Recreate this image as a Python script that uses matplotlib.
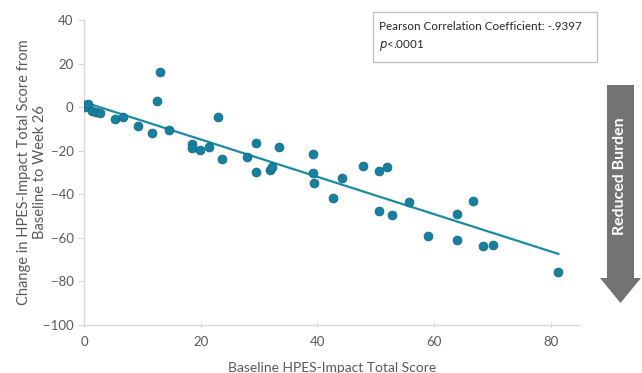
import numpy as np
import matplotlib.pyplot as plt
from matplotlib.patches import Polygon, Rectangle

# baseline score vs change to week 26
baseline = [0.0, 0.2, 0.7, 1.3, 2.0, 2.7, 5.4, 6.7, 9.3, 11.6, 12.6, 13.1, 14.5,
            18.5, 18.5, 19.8, 21.5, 23.0, 23.7, 27.9, 29.4, 29.5, 31.9, 32.2,
            33.4, 39.3, 39.3, 39.4, 42.6, 44.3, 47.9, 50.6, 52.0, 50.5, 52.8,
            55.7, 58.9, 64.0, 66.7, 64.0, 68.4, 70.1, 81.3]
change = [1.0, 0.0, 1.4, -1.7, -2.1, -2.8, -5.6, -4.4, -8.5, -11.7, 2.8, 16.1, -10.5,
          -16.9, -18.8, -19.7, -18.5, -4.4, -23.8, -22.8, -16.3, -29.6, -28.9, -27.6,
          -18.5, -21.5, -30.1, -34.8, -41.7, -32.7, -27.0, -29.3, -27.6, -47.5, -49.4,
          -43.4, -59.0, -48.9, -43.0, -61.1, -63.9, -63.3, -75.5]

# trend line as drawn in the picture
fit_slope = -0.857
fit_intercept = 2.3
fit_range = [0.7, 81.3]

x_ticks = [0, 20, 40, 60, 80]
y_ticks = [-100, -80, -60, -40, -20, 0, 20, 40]

plt.rcParams['font.family'] = ['Lato', 'DejaVu Sans']
txt = '#595959'
dot = '#17809f'

fig = plt.figure(figsize=(6.42, 3.73), dpi=100)
ax = fig.add_axes([0.1308, 0.1287, 0.7726, 0.8177])

xl = np.array(fit_range)
ax.plot(xl, fit_slope * xl + fit_intercept, color='#1a8aa6', lw=1.6, zorder=2)
ax.scatter(baseline, change, s=40, color=dot, edgecolor='#0f6a86', linewidth=0.6, zorder=3)

ax.set_xlim(0, 85)
ax.set_ylim(-100, 40)
ax.set_xticks(x_ticks)
ax.set_yticks(y_ticks)
for s in ['top', 'right']:
    ax.spines[s].set_visible(False)
for s in ['left', 'bottom']:
    ax.spines[s].set_color('#d9d9d9')
    ax.spines[s].set_linewidth(1.0)
ax.tick_params(axis='both', colors='#d9d9d9', labelcolor=txt, labelsize=9.5, length=4)
ax.tick_params(axis='x', direction='inout', pad=6)

ax.set_xlabel('Baseline HPES-Impact Total Score', color=txt, fontsize=10, labelpad=10)
ax.set_ylabel('Change in HPES-Impact Total Score from\nBaseline to Week 26',
              color=txt, fontsize=10.5, labelpad=-3)

W, H = 642, 373

# stats box
fig.patches.append(Rectangle((373 / W, 1 - 62 / H), (597 - 373) / W, 50 / H,
                             transform=fig.transFigure, fc='white', ec='#bfbfbf', lw=0.9))
fig.text(379 / W, 1 - 37 / H, 'Pearson Correlation Coefficient: -.9397\n$p$<.0001',
         color='#262626', fontsize=8.4, va='center', ha='left', linespacing=1.6)

# arrow on the right
pts = [(607, 85), (634, 85), (634, 278), (641, 278), (620.5, 303),
       (600, 278), (607, 278)]
fig.patches.append(Polygon([(px / W, 1 - py / H) for px, py in pts], closed=True,
                           transform=fig.transFigure, fc='#737373', ec='none'))
fig.text(620.5 / W, 1 - 176 / H, 'Reduced Burden', rotation=90, color='white',
         fontsize=11.5, fontweight='bold', ha='center', va='center')

fig.savefig('out.png', dpi=100)
